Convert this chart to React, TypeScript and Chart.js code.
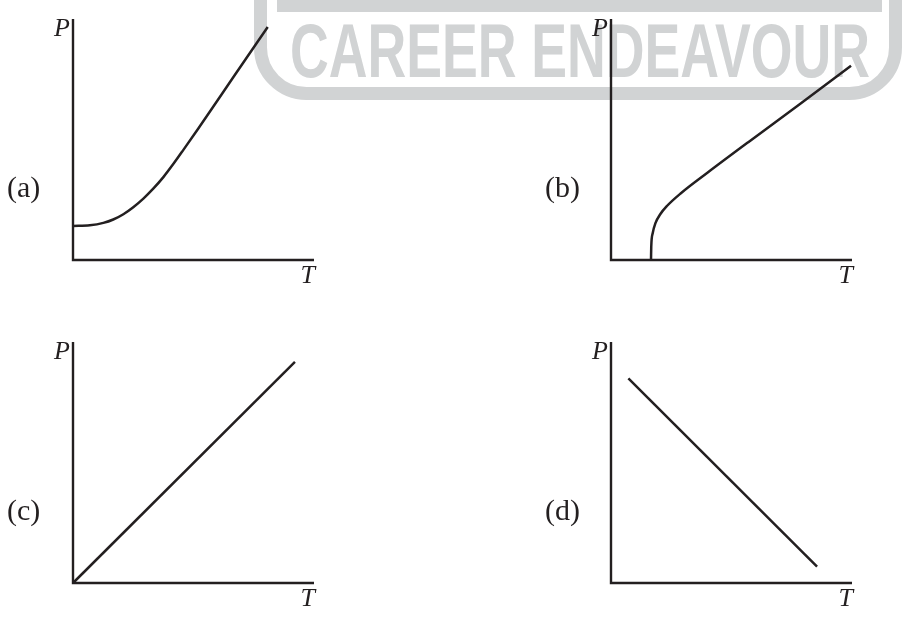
import React, { useEffect, useRef } from "react";
import { Chart, registerables } from "chart.js";

Chart.register(...registerables);

// ---- data (T on x, P on y, both in 0..100 axis units) ----
const tA = [0, 7, 12.6, 16.7, 20.9, 25, 29.2, 33.3, 37.5, 41.6, 45.8, 52, 66.5, 80.8];
const pA = [14.1, 14.4, 15.4, 16.8, 19.0, 21.9, 25.5, 29.6, 34.4, 39.8, 45.7, 54.6, 75.8, 96.7];

const tB = [16.6, 16.7, 17.3, 18.4, 20.5, 23.2, 29.0, 40, 57.1, 78, 99.6];
const pB = [0, 5.5, 11.1, 15.2, 19.1, 22.4, 27.7, 36.2, 49.0, 64.4, 80.6];

const tC = [0, 92.1];
const pC = [0, 91.8];

const tD = [7.2, 85.5];
const pD = [84.9, 6.8];

const panelLabels = ["(a)", "(b)", "(c)", "(d)"];
const axisLabelX = "T";
const axisLabelY = "P";
const watermarkText = "CAREER ENDEAVOUR";

const INK = "#231f20";
const GRAY = "#d1d3d4";

const axesPlugin = {
  id: "ptAxes",
  beforeDatasetsDraw(chart: any, _args: any, opts: any) {
    const { ctx } = chart;
    const xs = chart.scales.x;
    const ys = chart.scales.y;
    const x0 = xs.getPixelForValue(0);
    const x1 = xs.getPixelForValue(100);
    const y0 = ys.getPixelForValue(0);
    const y1 = ys.getPixelForValue(100);
    ctx.save();
    ctx.strokeStyle = INK;
    ctx.lineWidth = 2.4;
    ctx.lineJoin = "miter";
    ctx.beginPath();
    ctx.moveTo(x0, y1);
    ctx.lineTo(x0, y0);
    ctx.lineTo(x1, y0);
    ctx.stroke();

    ctx.fillStyle = INK;
    ctx.textBaseline = "alphabetic";
    ctx.font = "italic 26px 'Liberation Serif', 'DejaVu Serif', serif";
    ctx.textAlign = "right";
    ctx.fillText(axisLabelY, x0 - 3, y1 + 17);
    ctx.fillText(axisLabelX, x1 + 1, y0 + 23);

    ctx.font = "30px 'Liberation Serif', 'DejaVu Serif', serif";
    ctx.textAlign = "left";
    ctx.fillText(opts.label, x0 - 66, y1 + 178);
    ctx.restore();
  },
};

type PanelProps = {
  left: number;
  top: number;
  width: number;
  height: number;
  pad: { left: number; right: number; top: number; bottom: number };
  t: number[];
  p: number[];
  label: string;
  curved: boolean;
};

function Panel({ left, top, width, height, pad, t, p, label, curved }: PanelProps) {
  const ref = useRef<HTMLCanvasElement | null>(null);
  useEffect(() => {
    if (!ref.current) return;
    const chart = new Chart(ref.current, {
      type: "scatter",
      data: {
        datasets: [
          {
            data: t.map((v, i) => ({ x: v, y: p[i] })),
            showLine: true,
            borderColor: INK,
            borderWidth: 2.5,
            pointRadius: 0,
            fill: false,
            tension: curved ? 0.4 : 0,
            cubicInterpolationMode: curved ? "monotone" : "default",
            clip: false,
          } as any,
        ],
      },
      options: {
        responsive: false,
        animation: false,
        devicePixelRatio: 1,
        events: [],
        layout: { padding: pad },
        scales: {
          x: { type: "linear", min: 0, max: 100, display: false },
          y: { type: "linear", min: 0, max: 100, display: false },
        },
        plugins: {
          legend: { display: false },
          tooltip: { enabled: false },
          ptAxes: { label },
        } as any,
      },
      plugins: [axesPlugin],
    });
    return () => chart.destroy();
  }, []);
  return (
    <canvas
      ref={ref}
      width={width}
      height={height}
      style={{ position: "absolute", left, top, width, height, display: "block" }}
    />
  );
}

function Watermark() {
  const ref = useRef<HTMLCanvasElement | null>(null);
  useEffect(() => {
    const c = ref.current;
    if (!c) return;
    const ctx = c.getContext("2d");
    if (!ctx) return;
    ctx.clearRect(0, 0, 909, 619);
    ctx.fillStyle = GRAY;
    ctx.strokeStyle = GRAY;
    // top band
    ctx.fillRect(277, 0, 605, 12);
    // rounded frame
    ctx.lineWidth = 13;
    const l = 260.5, r = 895.5, b = 93.5, tp = -60, rad = 46;
    ctx.beginPath();
    ctx.moveTo(l, tp);
    ctx.lineTo(l, b - rad);
    ctx.arcTo(l, b, l + rad, b, rad);
    ctx.lineTo(r - rad, b);
    ctx.arcTo(r, b, r, b - rad, rad);
    ctx.lineTo(r, tp);
    ctx.stroke();
    // text
    ctx.font = "bold 76px 'Liberation Sans', 'DejaVu Sans', sans-serif";
    ctx.textBaseline = "alphabetic";
    ctx.textAlign = "left";
    ctx.fillText(watermarkText, 290, 77, 580);
  }, []);
  return (
    <canvas
      ref={ref}
      width={909}
      height={619}
      style={{ position: "absolute", left: 0, top: 0, width: 909, height: 619, display: "block" }}
    />
  );
}

export default function App() {
  return (
    <div
      style={{
        position: "absolute",
        left: 0,
        top: 0,
        width: 909,
        height: 619,
        background: "#ffffff",
        overflow: "hidden",
      }}
    >
      <Watermark />
      <Panel left={0} top={0} width={454} height={310} pad={{ left: 73, right: 140, top: 19, bottom: 50 }} t={tA} p={pA} label={panelLabels[0]} curved />
      <Panel left={454} top={0} width={455} height={310} pad={{ left: 157, right: 57, top: 19, bottom: 50 }} t={tB} p={pB} label={panelLabels[1]} curved />
      <Panel left={0} top={310} width={454} height={309} pad={{ left: 73, right: 140, top: 32, bottom: 36 }} t={tC} p={pC} label={panelLabels[2]} curved={false} />
      <Panel left={454} top={310} width={455} height={309} pad={{ left: 157, right: 57, top: 32, bottom: 36 }} t={tD} p={pD} label={panelLabels[3]} curved={false} />
    </div>
  );
}
